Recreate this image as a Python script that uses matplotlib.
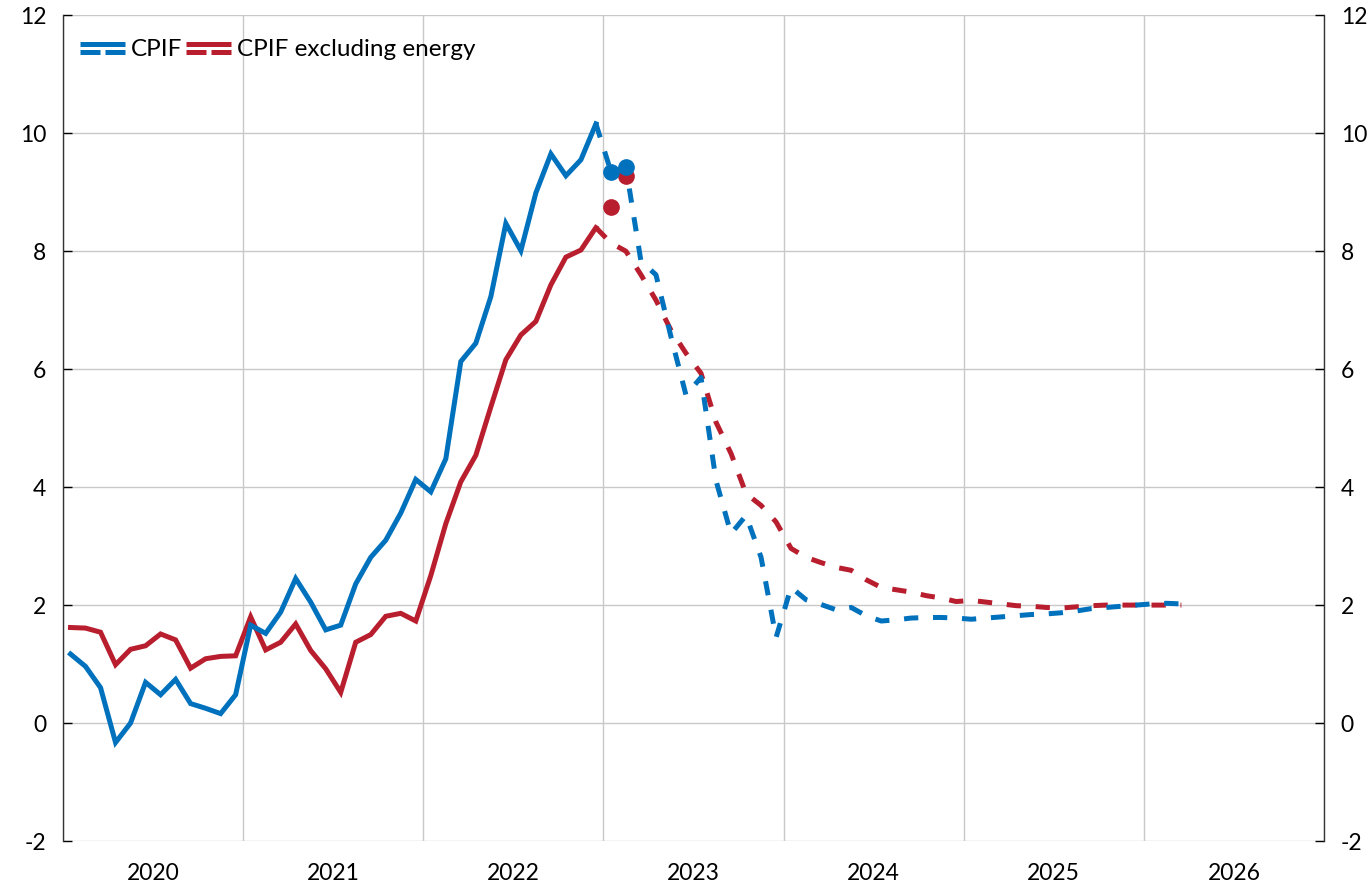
import matplotlib
matplotlib.use("Agg")
import matplotlib.pyplot as plt
from matplotlib.lines import Line2D
from matplotlib.legend_handler import HandlerBase
import numpy as np

plt.rcParams['font.family'] = ['Lato', 'DejaVu Sans']

# ---- data (monthly, starting Jan 2020) ----
cpif_actual = [1.17, 0.96, 0.60, -0.33, 0.0, 0.69, 0.48, 0.74, 0.33, 0.25, 0.16, 0.48,
               1.66, 1.52, 1.88, 2.45, 2.05, 1.58, 1.66, 2.36, 2.81, 3.10, 3.56, 4.13,
               3.92, 4.48, 6.13, 6.44, 7.23, 8.47, 8.01, 8.99, 9.65, 9.28, 9.55, 10.16]
cpifxe_actual = [1.62, 1.61, 1.54, 0.99, 1.25, 1.31, 1.51, 1.41, 0.93, 1.09, 1.13, 1.14,
                 1.80, 1.24, 1.37, 1.68, 1.23, 0.92, 0.52, 1.37, 1.50, 1.81, 1.86, 1.73,
                 2.50, 3.38, 4.09, 4.54, 5.36, 6.16, 6.58, 6.81, 7.43, 7.90, 8.02, 8.40]
# forecasts start at Dec 2022 (month index 35)
cpif_forecast = [10.16, 9.35, 9.42, 7.83, 7.60, 6.55, 5.56, 5.86, 4.11, 3.21, 3.52, 2.81,
                 1.45, 2.30, 2.09, 2.01, 1.92, 1.96, 1.82, 1.73, 1.75, 1.78, 1.79, 1.79,
                 1.78, 1.76, 1.78, 1.80, 1.82, 1.84, 1.85, 1.87, 1.90, 1.94, 1.96, 1.98,
                 2.00, 2.02, 2.03, 2.02]
cpifxe_forecast = [8.40, 8.14, 8.00, 7.60, 7.17, 6.66, 6.27, 5.93, 5.10, 4.57, 3.89, 3.69,
                   3.41, 2.96, 2.81, 2.72, 2.64, 2.59, 2.43, 2.30, 2.26, 2.22, 2.16, 2.12,
                   2.06, 2.08, 2.05, 2.02, 1.99, 1.98, 1.96, 1.95, 1.97, 1.99, 2.00, 2.00,
                   2.00, 2.00, 2.00, 2.00]
forecast_start = 35
# outcome dots (Jan and Feb 2023)
dot_months = [36, 37]
cpif_dots = [9.35, 9.42]
cpifxe_dots = [8.75, 9.27]

years = [2020, 2021, 2022, 2023, 2024, 2025, 2026]
yticks = [-2, 0, 2, 4, 6, 8, 10, 12]

BLUE = '#0071BC'
RED = '#B81E2E'

def mx(idx):
    idx = np.asarray(idx, dtype=float)
    return 2020 + (idx + 0.5) / 12.0

fig = plt.figure(figsize=(13.71, 8.86), dpi=100)
ax = fig.add_axes([63/1371, 1 - 841/886, (1324 - 63)/1371, (841 - 15.3)/886])

lw = 3.6
dash = (2.85, 2.95)

x_act = mx(np.arange(len(cpif_actual)))
x_fc = mx(np.arange(forecast_start, forecast_start + len(cpif_forecast)))

ax.plot(x_fc, cpifxe_forecast, color=RED, lw=lw, dashes=dash, zorder=3)
ax.plot(x_act, cpifxe_actual, color=RED, lw=lw, zorder=3, solid_joinstyle='miter')
ax.plot(x_fc, cpif_forecast, color=BLUE, lw=lw, dashes=dash, zorder=4)
ax.plot(x_act, cpif_actual, color=BLUE, lw=lw, zorder=4, solid_joinstyle='miter')
ax.plot(mx(dot_months), cpifxe_dots, 'o', color=RED, ms=11, zorder=5, lw=0)
ax.plot(mx(dot_months), cpif_dots, 'o', color=BLUE, ms=11, zorder=6, lw=0)

ax.set_xlim(2020, 2027)
ax.set_ylim(-2, 12)
ax.set_yticks(yticks)
ax.set_yticklabels([str(v) for v in yticks])
ax.set_xticks(range(2020, 2028))
ax.set_xticklabels([])
ax.set_xticks([y + 0.5 for y in years], minor=True)
ax.set_xticklabels([str(y) for y in years], minor=True)

ax.grid(True, which='major', color='#C8C8C8', lw=1.0, zorder=0)
ax.tick_params(axis='x', which='both', length=0, labelsize=16.5, pad=16, colors='black')
ax.tick_params(axis='y', which='major', direction='in', length=6.5, width=1.0,
               labelsize=16.5, pad=12, left=True, right=True, labelleft=True, labelright=True,
               colors='black')
for s in ['top', 'bottom']:
    ax.spines[s].set_visible(False)
for s in ['left', 'right']:
    ax.spines[s].set_color('#333333')
    ax.spines[s].set_linewidth(1.0)


class SolidDashHandler(HandlerBase):
    def create_artists(self, legend, orig_handle, xdescent, ydescent,
                       width, height, fontsize, trans):
        c = orig_handle.get_color()
        yc = height / 2.0 - ydescent
        l1 = Line2D([-xdescent, -xdescent + width], [yc + 3.0, yc + 3.0],
                    color=c, lw=lw, solid_capstyle='butt')
        l2 = Line2D([-xdescent, -xdescent + width], [yc - 3.0, yc - 3.0],
                    color=c, lw=lw, dashes=(4.0, 1.0), dash_capstyle='butt')
        for l in (l1, l2):
            l.set_transform(trans)
        return [l1, l2]


h1 = Line2D([], [], color=BLUE)
h2 = Line2D([], [], color=RED)
leg = ax.legend([h1, h2], ['CPIF', 'CPIF excluding energy'], loc='upper left',
                bbox_to_anchor=(0.0135, 0.971), frameon=False, ncol=2, fontsize=17.5,
                handlelength=1.85, handletextpad=0.25, columnspacing=0.15,
                borderpad=0, borderaxespad=0,
                handler_map={Line2D: SolidDashHandler()})

fig.savefig('out.png', dpi=100)
